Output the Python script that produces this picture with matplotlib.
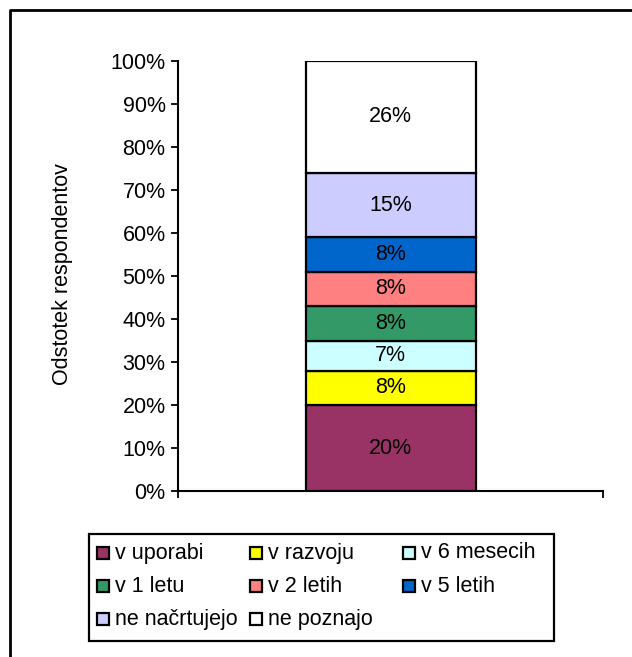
import matplotlib
matplotlib.use('Agg')
import matplotlib.pyplot as plt
from matplotlib.lines import Line2D
from matplotlib.patches import Rectangle
import numpy as np

plt.rcParams['font.family'] = ['Liberation Sans', 'DejaVu Sans']

categories = ['v uporabi', 'v razvoju', 'v 6 mesecih', 'v 1 letu',
              'v 2 letih', 'v 5 letih', 'ne načrtujejo', 'ne poznajo']
values = [20, 8, 7, 8, 8, 8, 15, 26]
colors = ['#993366', '#FFFF00', '#CCFFFF', '#339966',
          '#FF8080', '#0066CC', '#CCCCFF', '#FFFFFF']
yticks = list(range(0, 101, 10))
ylabel = 'Odstotek respondentov'

W, H = 632, 657
fig = plt.figure(figsize=(W/100, H/100), dpi=100)
ax = fig.add_axes([178/W, 1-491/H, 425/W, 430/H])

bottom = 0
for cat, v, c in zip(categories, values, colors):
    ax.bar(0, v, width=0.4, bottom=bottom, color=c, edgecolor='black',
           linewidth=1.6, label=cat)
    ax.text(0, bottom + v/2, '%d%%' % v, ha='center', va='center', fontsize=15.5)
    bottom += v

ax.set_xlim(-0.5, 0.5)
ax.set_ylim(0, 100)
ax.set_yticks(yticks)
ax.set_yticklabels(['%d%%' % t for t in yticks], fontsize=15.5)
ax.set_xticks([-0.5, 0.5])
ax.set_xticklabels(['', ''])
ax.tick_params(axis='both', direction='out', length=5, width=1.3)
ax.tick_params(axis='y', pad=4)
for s in ['top', 'right']:
    ax.spines[s].set_visible(False)
for s in ['left', 'bottom']:
    ax.spines[s].set_linewidth(1.5)
ax.set_ylabel(ylabel, fontsize=15.5)
ax.yaxis.set_label_coords(-0.247, 0.505)

# legend box: Excel-style grid, 3 equal columns, rows read left to right
def px(x, y):
    return x / W, 1 - y / H

fig.add_artist(Rectangle(px(89, 641), 465/W, 107/H, transform=fig.transFigure,
                         facecolor='white', edgecolor='black', linewidth=1.6))
col_x = [97, 250, 403]
row_y = [553, 586, 619]
for i, (cat, c) in enumerate(zip(categories, colors)):
    x0 = col_x[i % 3]
    y0 = row_y[i // 3]
    fig.add_artist(Rectangle(px(x0, y0 + 6), 12/W, 12/H, transform=fig.transFigure,
                             facecolor=c, edgecolor='black', linewidth=1.6))
    fig.text(*px(x0 + 18, y0), cat, ha='left', va='center', fontsize=15.5)

# outer chart frame (only top and left edges are inside the image)
fig.add_artist(Line2D([10/W, 10/W, 1.0], [0, 1-10/H, 1-10/H],
                      transform=fig.transFigure, color='black', linewidth=2))

fig.savefig('out.png', dpi=100)
